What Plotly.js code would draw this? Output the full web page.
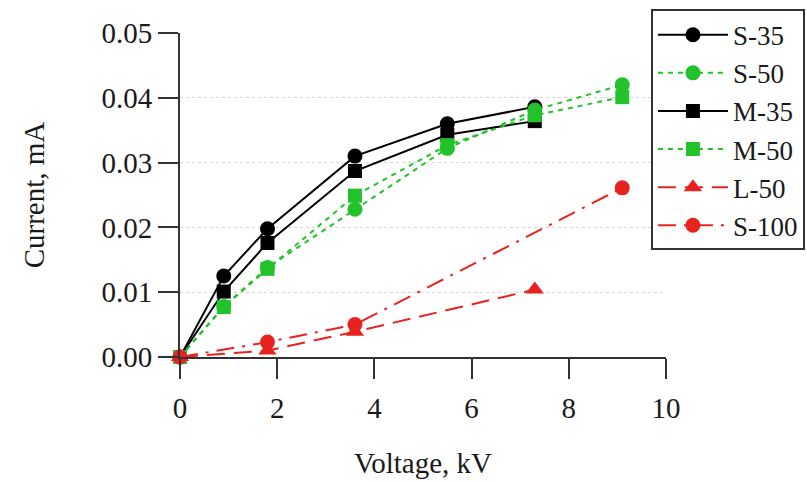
<!DOCTYPE html>
<html>
<head>
<meta charset="utf-8">
<script src="https://cdn.plot.ly/plotly-3.0.1.min.js"></script>
<style>html,body{margin:0;padding:0;background:#fff;}#chart{width:807px;height:482px;}</style>
</head>
<body>
<div id="chart"></div>
<script>
// Voltage, kV
const xS35 = [0, 0.9, 1.8, 3.6, 5.5, 7.3];
const yS35 = [0, 0.0125, 0.0198, 0.0310, 0.0360, 0.0386];
const xS50 = [0, 0.9, 1.8, 3.6, 5.5, 7.3, 9.1];
const yS50 = [0, 0.0078, 0.0138, 0.0228, 0.0322, 0.0381, 0.0420];
const xM35 = [0, 0.9, 1.8, 3.6, 5.5, 7.3];
const yM35 = [0, 0.0101, 0.0176, 0.0287, 0.0343, 0.0364];
const xM50 = [0, 0.9, 1.8, 3.6, 5.5, 7.3, 9.1];
const yM50 = [0, 0.0077, 0.0136, 0.0249, 0.0327, 0.0373, 0.0401];
const xL50 = [0, 1.8, 3.6, 7.3];
const yL50 = [0, 0.0010, 0.0039, 0.0104];
const xS100 = [0, 1.8, 3.6, 9.1];
const yS100 = [0, 0.0023, 0.0050, 0.0261];
const names = ['S-35', 'S-50', 'M-35', 'M-50', 'L-50', 'S-100'];

const BLACK = '#000000', GREEN = '#22c32a', RED = '#e8231f';
function tr(x, y, name, color, dash, symbol, size) {
  return {x: x, y: y, name: name, type: 'scatter', mode: 'lines+markers', cliponaxis: false,
    line: {color: color, width: 2, dash: dash},
    marker: {color: color, symbol: symbol, size: size}};
}
const data = [
  tr(xS35, yS35, names[0], BLACK, 'solid', 'circle', 15),
  tr(xS50, yS50, names[1], GREEN, '5px,5px', 'circle', 15),
  tr(xM35, yM35, names[2], BLACK, 'solid', 'square', 14),
  tr(xM50, yM50, names[3], GREEN, '5px,5px', 'square', 14),
  tr(xL50, yL50, names[4], RED, '18px,9px', 'triangle-up', 16),
  tr(xS100, yS100, names[5], RED, '18px,8px,3px,8px', 'circle', 15)
];
const font = {family: 'Liberation Serif, Times New Roman, serif', color: '#1a1a1a', size: 29};
const layout = {
  width: 807, height: 482,
  margin: {l: 180, r: 141, t: 33, b: 125, autoexpand: false},
  paper_bgcolor: '#fff', plot_bgcolor: '#fff',
  font: font,
  showlegend: true,
  xaxis: {range: [0, 10], tickvals: [0, 2, 4, 6, 8, 10], ticks: 'outside', ticklen: 20, tickwidth: 2,
    tickcolor: '#333', showline: true, linecolor: '#333', linewidth: 2, showgrid: false, zeroline: false,
    ticklabelstandoff: 4,
    tickfont: {size: 29}, title: {text: 'Voltage, kV', font: {size: 29}, standoff: 30}},
  yaxis: {range: [0, 0.05], tickvals: [0, 0.01, 0.02, 0.03, 0.04, 0.05], tickformat: '.2f', ticks: 'outside',
    ticklen: 20, tickwidth: 2, tickcolor: '#333', showline: true, linecolor: '#333', linewidth: 2,
    showgrid: true, gridcolor: '#d8d8d8', griddash: 'dot', gridwidth: 1, zeroline: false,
    tickfont: {size: 29}, title: {text: 'Current, mA', font: {size: 29}, standoff: 48}},
  legend: {x: 0.969, y: 1.075, xanchor: 'left', yanchor: 'top', bordercolor: '#333', borderwidth: 2,
    bgcolor: '#fff', font: {size: 27}, itemwidth: 70, tracegroupgap: 0}
};
Plotly.newPlot('chart', data, layout, {displayModeBar: false, staticPlot: true});
</script>
</body>
</html>
